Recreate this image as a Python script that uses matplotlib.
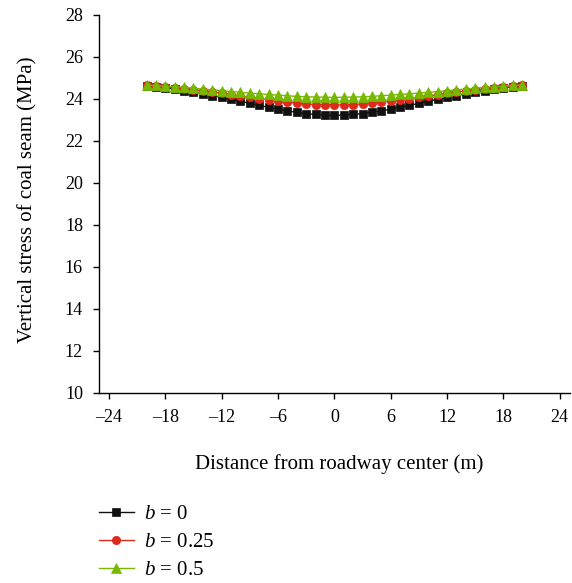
import matplotlib
matplotlib.use("Agg")
import matplotlib.pyplot as plt

plt.rcParams["font.family"] = ["Liberation Serif", "DejaVu Serif"]
plt.rcParams["mathtext.fontset"] = "custom"
plt.rcParams["mathtext.rm"] = "Liberation Serif"
plt.rcParams["mathtext.it"] = "Liberation Serif:italic"

# Distance from roadway center (m)
distance = list(range(-20, 21))

# Vertical stress (MPa) for each b value, left half to center then right half
stress_b0_left = [24.62, 24.57, 24.52, 24.46, 24.39, 24.32, 24.24, 24.15, 24.06, 23.97,
                  23.88, 23.78, 23.68, 23.59, 23.50, 23.42, 23.35, 23.29, 23.25, 23.22]
stress_b0_center = [23.21]
stress_b025_left = [24.63, 24.60, 24.56, 24.52, 24.47, 24.42, 24.37, 24.31, 24.25, 24.19,
                    24.13, 24.06, 24.00, 23.94, 23.88, 23.83, 23.79, 23.75, 23.72, 23.71]
stress_b025_center = [23.70]
stress_b05_left = [24.65, 24.63, 24.60, 24.57, 24.54, 24.50, 24.46, 24.42, 24.38, 24.34,
                   24.30, 24.27, 24.23, 24.20, 24.17, 24.14, 24.11, 24.09, 24.08, 24.07]
stress_b05_center = [24.06]

stress_b0 = stress_b0_left + stress_b0_center + stress_b0_left[::-1]
stress_b025 = stress_b025_left + stress_b025_center + stress_b025_left[::-1]
stress_b05 = stress_b05_left + stress_b05_center + stress_b05_left[::-1]

labels = [r"$b$ = 0", r"$b$ = 0.25", r"$b$ = 0.5"]
x_ticks = [-24, -18, -12, -6, 0, 6, 12, 18, 24]
y_ticks = [10, 12, 14, 16, 18, 20, 22, 24, 26, 28]

fig = plt.figure(figsize=(5.72, 5.83), dpi=100)
ax = fig.add_axes([0.1736, 0.3264, 0.823, 0.6484])

series = [
    (stress_b0, "#111111", "s", 5.4),
    (stress_b025, "#dc2a1c", "o", 6.0),
    (stress_b05, "#76b900", "^", 7.0),
]
handles = []
for (vals, color, marker, ms), label in zip(series, labels):
    (h,) = ax.plot(distance, vals, color=color, marker=marker, markersize=ms,
                   linewidth=1.0, label=label, markeredgewidth=0.5,
                   markeredgecolor=color)
    handles.append(h)

ax.set_xlim(-25.03, 25.1)
ax.set_ylim(10, 28)
ax.set_xticks(x_ticks)
ax.set_yticks(y_ticks)
ax.set_xticklabels([("\u2013" + str(-t)) if t < 0 else str(t) for t in x_ticks])

for side in ("top", "right"):
    ax.spines[side].set_visible(False)
for side in ("left", "bottom"):
    ax.spines[side].set_linewidth(1.0)
ax.tick_params(direction="out", length=4.3, width=1.0, labelsize=13)
ax.tick_params(axis="x", pad=7.5)
ax.tick_params(axis="y", pad=7.5)

ax.set_xlabel("Distance from roadway center (m)", fontsize=15)
ax.set_ylabel("Vertical stress of coal seam (MPa)", fontsize=15)
ax.xaxis.set_label_coords(0.51, -0.162)
ax.yaxis.set_label_coords(-0.132, 0.51)

fig.legend(handles=handles, labels=labels, loc="upper left",
           bbox_to_anchor=(0.158, 0.1485), frameon=False, fontsize=15,
           handlelength=1.7, handletextpad=0.45, labelspacing=0.4,
           borderaxespad=0.0)

fig.savefig("out.png", dpi=100)
